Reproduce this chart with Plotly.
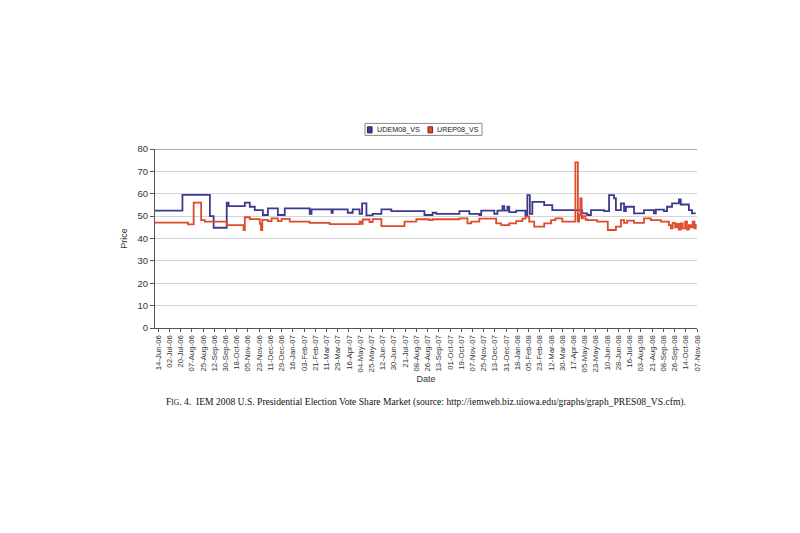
"""IEM 2008 presidential vote-share market, UDEM08_VS vs UREP08_VS price history."""

import plotly.graph_objects as go

# x is the record index of the price history (one tick label every 18 records)
TICK_LABELS = [
    "14-Jun-06", "02-Jul-06", "20-Jul-06", "07-Aug-06", "25-Aug-06", "12-Sep-06",
    "30-Sep-06", "18-Oct-06", "05-Nov-06", "23-Nov-06", "11-Dec-06", "29-Dec-06",
    "16-Jan-07", "03-Feb-07", "21-Feb-07", "11-Mar-07", "29-Mar-07", "16-Apr-07",
    "04-May-07", "25-May-07", "12-Jun-07", "30-Jun-07", "21-Jul-07", "08-Aug-07",
    "26-Aug-07", "13-Sep-07", "01-Oct-07", "19-Oct-07", "07-Nov-07", "25-Nov-07",
    "13-Dec-07", "31-Dec-07", "18-Jan-08", "05-Feb-08", "23-Feb-08", "12-Mar-08",
    "30-Mar-08", "17-Apr-08", "05-May-08", "23-May-08", "10-Jun-08", "28-Jun-08",
    "16-Jul-08", "03-Aug-08", "21-Aug-08", "08-Sep-08", "26-Sep-08", "14-Oct-08",
    "07-Nov-08",
]
TICK_POS = [5 + 18 * k for k in range(len(TICK_LABELS))]

DEM_X = [0, 44, 88, 94, 115, 118, 144, 152, 160, 173, 181, 197, 208, 248, 251,
         283, 285, 309, 317, 328, 332, 339, 349, 363, 379, 432, 445, 451, 488,
         504, 520, 523, 544, 549, 557, 560, 565, 568, 579, 594, 597, 601, 605,
         624, 637, 685, 693, 699, 720, 728, 736, 739, 747, 752, 755, 768, 784,
         800, 803, 816, 821, 829, 840, 843, 856, 861, 867]
DEM_Y = [52.5, 59.5, 50, 44.8, 56, 54.5, 56, 54.2, 52.7, 50.5, 53.5, 50.5, 53.5,
         51, 53, 51.5, 53, 51.5, 53, 51, 55.7, 50.3, 51, 53, 52.2, 50.5, 51.5,
         51, 52.2, 51, 50.5, 52.5, 51, 52.5, 54.5, 52.5, 54.2, 51.8, 52.5, 50.5,
         59.4, 51, 56.4, 54.9, 52.7, 51.2, 50.5, 52.7, 52.2, 59.4, 57.9, 52.7,
         55.7, 52.2, 54.2, 51.2, 52.7, 51.2, 52.9, 52.2, 54.2, 55.7, 57.5, 55.2,
         52.7, 51.2, 51.2]

REP_X = [0, 53, 62, 74, 80, 115, 142, 144, 152, 168, 170, 172, 181, 187, 197,
         203, 216, 248, 280, 328, 331, 333, 344, 349, 363, 400, 419, 440, 445,
         488, 501, 507, 520, 547, 555, 568, 579, 589, 594, 600, 608, 624, 635,
         642, 653, 674, 678, 680, 682, 684, 686, 690, 693, 709, 726, 739, 747,
         752, 757, 768, 784, 795, 811, 824, 827, 830, 834, 837, 840, 843, 846,
         850, 853, 856, 859, 862, 865, 867]
REP_Y = [47.1, 46.3, 56, 48.2, 47.5, 46, 43.8, 49.5, 48.7, 46.5, 43.8, 48.3,
         47.8, 49, 47.8, 48.8, 47.5, 47, 46.4, 47.5, 46.5, 48.5, 47.3, 48.7, 45.5,
         47.5, 48.6, 48.2, 48.6, 49, 46.8, 47.5, 48.9, 46.8, 46, 46.8, 47.8, 48.9,
         49.8, 47.5, 45.3, 46.8, 48.2, 49, 47.5, 74, 47.5, 50.5, 57.9, 49, 50,
         48.5, 48.2, 47.5, 43.8, 45.3, 48.2, 47, 48, 47, 49, 48.2, 47.5, 46, 44.5,
         47, 45, 46.5, 44, 46.8, 44.5, 47.5, 44, 46, 45, 47.5, 44.5, 46.5]

SERIES = ["UDEM08_VS", "UREP08_VS"]
DEM_COLOR = "#3b3a8e"
REP_COLOR = "#e04a2a"
FONT = "Liberation Sans, Arial, sans-serif"

fig = go.Figure()
fig.add_trace(go.Scatter(x=DEM_X, y=DEM_Y, mode="lines", line_shape="hv", name=SERIES[0],
                         line=dict(color=DEM_COLOR, width=1.8), showlegend=False))
fig.add_trace(go.Scatter(x=REP_X, y=REP_Y, mode="lines", line_shape="hv", name=SERIES[1],
                         line=dict(color=REP_COLOR, width=1.8), showlegend=False))

# compact boxed legend drawn by hand (plotly's own legend is far too roomy here)
shapes = [
    dict(type="line", xref="paper", yref="y", x0=0, x1=1, y0=80, y1=80,
         line=dict(color="#555555", width=1.2)),
    dict(type="rect", xref="paper", yref="paper", x0=0.3875, x1=0.6033,
         y0=1.076, y1=1.143, line=dict(color="#8a8a8a", width=1), fillcolor="white"),
]
annotations = []
for name, col, edge, sx in [(SERIES[0], DEM_COLOR, "#222255", 0.392),
                            (SERIES[1], REP_COLOR, "#7a2010", 0.5037)]:
    shapes.append(dict(type="rect", xref="paper", yref="paper", x0=sx, x1=sx + 0.0085,
                       y0=1.090, y1=1.124, fillcolor=col, line=dict(color=edge, width=1)))
    annotations.append(dict(text=name, xref="paper", yref="paper", x=sx + 0.0135,
                            xanchor="left", y=1.108, yanchor="middle", showarrow=False,
                            font=dict(size=7.2, color="#222222")))

annotations.append(dict(
    text="F<span style='font-size:7.5px'>IG</span>. 4.  IEM 2008 U.S. Presidential "
         "Election Vote Share Market (source: "
         "http://iemweb.biz.uiowa.edu/graphs/graph_PRES08_VS.cfm).",
    xref="paper", yref="paper", x=0.5, xanchor="center", y=-0.415,
    yanchor="middle", showarrow=False,
    font=dict(family="Liberation Serif, Times New Roman, serif", size=9.6,
              color="#111111")))

fig.update_layout(
    width=800, height=533,
    margin=dict(l=147, r=111, t=141, b=213),
    paper_bgcolor="white", plot_bgcolor="white",
    font=dict(family=FONT, size=9, color="#333333"),
    showlegend=False,
    xaxis=dict(range=[0, 869], tickvals=TICK_POS, ticktext=TICK_LABELS,
               tickangle=-90, tickfont=dict(size=7.8), ticks="outside", ticklen=3,
               tickcolor="#555", showgrid=False, zeroline=False, showline=True,
               linecolor="#555", linewidth=1,
               title=dict(text="Date", font=dict(size=9), standoff=4)),
    yaxis=dict(range=[0, 80], dtick=10, ticks="outside", ticklen=4, tickcolor="#555",
               tickfont=dict(size=9.5), showgrid=True, gridcolor="#d4d4d4",
               zeroline=False, showline=True, linecolor="#555", linewidth=1,
               title=dict(text="Price", font=dict(size=9), standoff=8)),
    shapes=shapes,
    annotations=annotations,
)

fig.write_html("out.html")
